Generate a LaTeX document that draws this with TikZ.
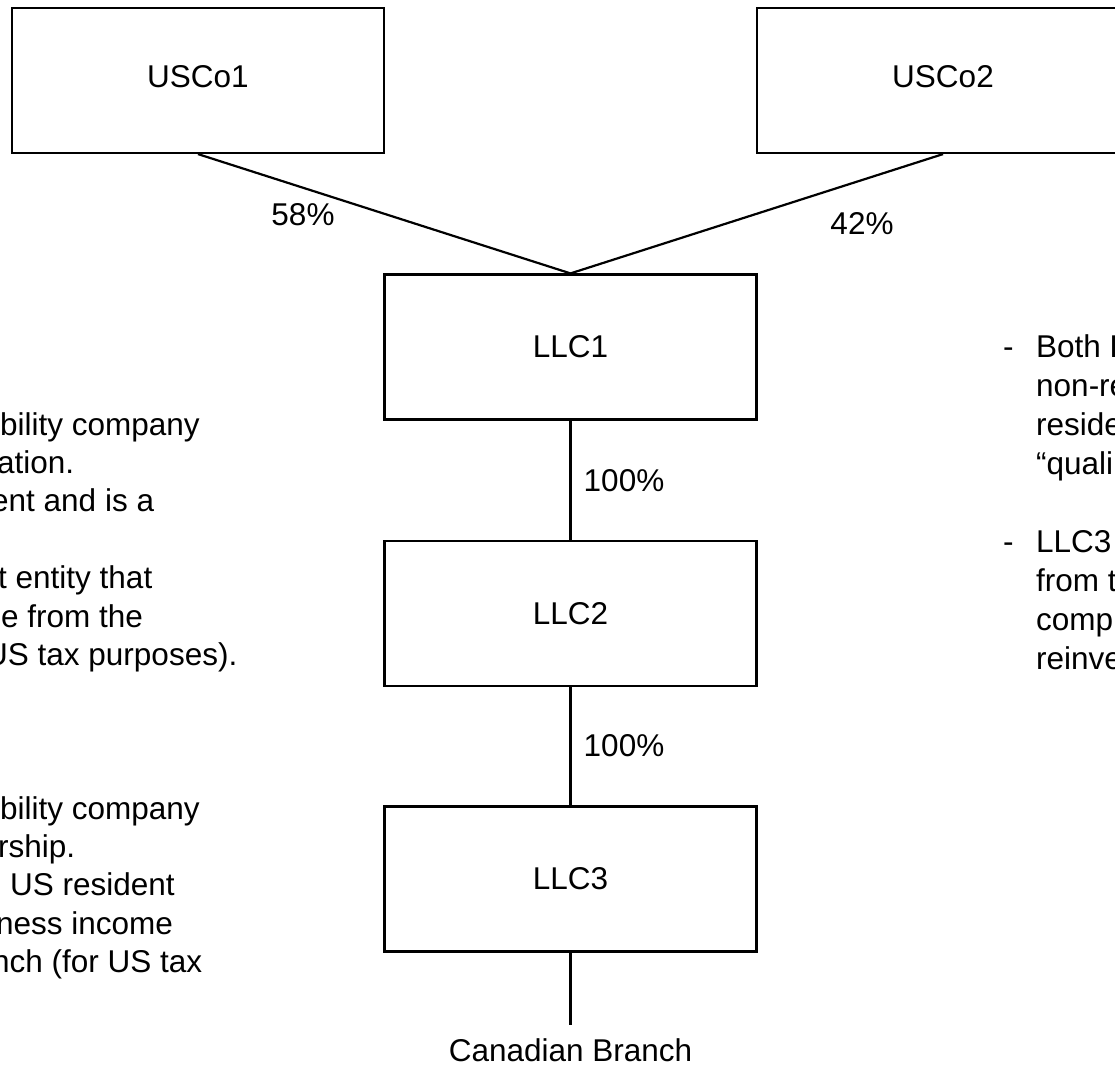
\documentclass[tikz,border=0pt]{standalone}
\usepackage{fontspec}
\setmainfont{Liberation Sans}
\newcommand\dfont{\fontsize{31.5}{38}\selectfont}
\begin{document}
\begin{tikzpicture}[x=1pt,y=-1pt,
  box/.style={draw, line width=2.2pt, minimum width=372pt, minimum height=145pt, inner sep=0pt, font=\dfont},
  topbox/.style={box, text height=22.5pt, text depth=9pt},
  conn/.style={line width=2.2pt},
  lbl/.style={inner sep=0pt, font=\dfont},
  txt/.style={inner sep=0pt, anchor=base west, font=\dfont}]
\useasboundingbox (0,0) rectangle (1115,1070);
\clip (0,0) rectangle (1115,1070);
\fill[white] (0,0) rectangle (1115,1070);

% boxes
\node[topbox] (usco1) at (198,80.5) {USCo1};
\node[topbox] (usco2) at (943,80.5) {USCo2};
\node[box] (llc1) at (570.5,347) {LLC1};
\node[box] (llc2) at (570.5,613.5) {LLC2};
\node[box] (llc3) at (570.5,879) {LLC3};

% connectors
\draw[conn] (usco1.south) -- (llc1.north);
\draw[conn] (usco2.south) -- (llc1.north);
\draw[conn] (llc1.south) -- (llc2.north);
\draw[conn] (llc2.south) -- (llc3.north);
\coordinate (cbend) at (570.5,1025);
\draw[conn] (llc3.south) -- (cbend);

% labels
\node[lbl] (p58) at (303,215) {58\%};
\node[lbl] (p42) at (862,224) {42\%};
\node[lbl] (p100a) at (624,480.5) {100\%};
\node[lbl] (p100b) at (624,746) {100\%};
\node[lbl, anchor=base] (cb) at (570.5,1061) {Canadian Branch};

% left text (cut off at the left edge)
\node[txt] (l1) at (0,435) {bility company};
\node[txt] (l2) at (-3,473.4) {ation.};
\node[txt] (l3) at (-9,511.8) {ent and is a};
\node[txt] (l4) at (-2,588.6) {t entity that};
\node[txt] (l5) at (1,627) {e from the};
\node[txt] (l6) at (-15,665.4) {US tax purposes).};
\node[txt] (l7) at (0,819) {bility company};
\node[txt] (l8) at (-2,857.4) {rship.};
\node[txt] (l9) at (10,895.8) {US resident};
\node[txt] (l10) at (-4,934.2) {ness income};
\node[txt] (l11) at (-8,972.6) {nch (for US tax};

% right text (cut off at the right edge)
\node[txt] (d1) at (1003,357) {-};
\node[txt] (r1) at (1036,357) {Both L};
\node[txt] (r2) at (1036,396) {non-re};
\node[txt] (r3) at (1036,435) {reside};
\node[txt] (r4) at (1036,474) {“quali};
\node[txt] (d2) at (1003,552) {-};
\node[txt] (r5) at (1036,552) {LLC3};
\node[txt] (r6) at (1036,591) {from th};
\node[txt] (r7) at (1036,630) {comp};
\node[txt] (r8) at (1036,669) {reinve};
\end{tikzpicture}
\end{document}
